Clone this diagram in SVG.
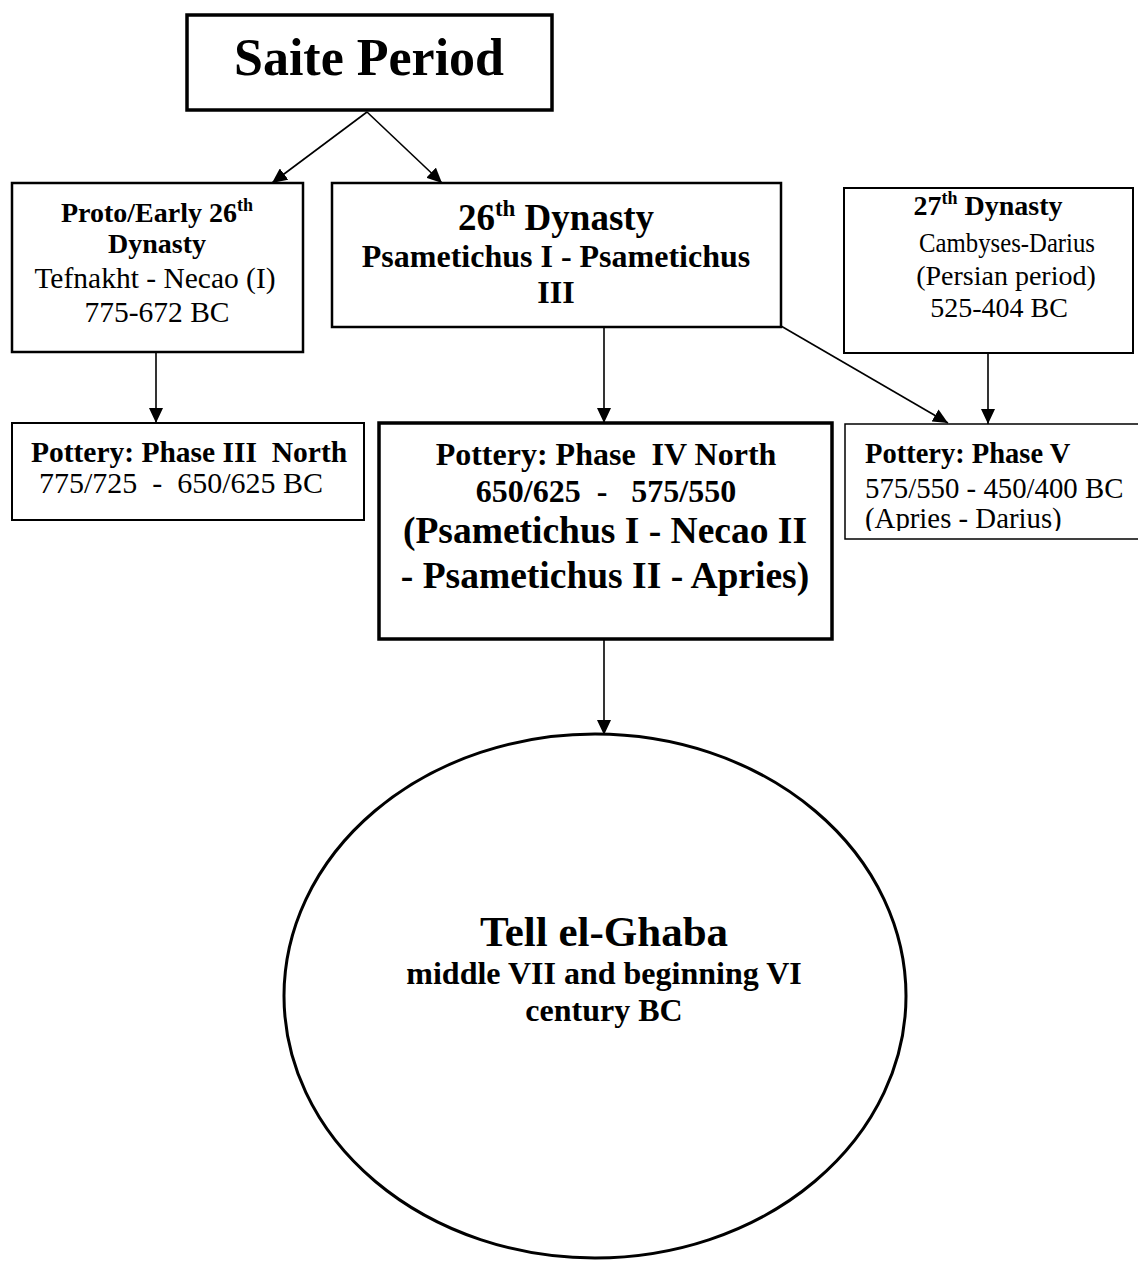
<svg xmlns="http://www.w3.org/2000/svg" width="1138" height="1261" viewBox="0 0 1138 1261">
<style>
  text { font-family: "Liberation Serif", "Times New Roman", serif; fill: #000; white-space: pre; }
  .c { text-anchor: middle; }
  .b { font-weight: bold; }
  .box { fill: #fff; stroke: #000; }
  .edge { stroke: #000; stroke-width: 1.6; fill: none; marker-end: url(#arr); }
</style>
<defs>
  <marker id="arr" markerUnits="userSpaceOnUse" markerWidth="16" markerHeight="14" refX="15" refY="7" orient="auto">
    <path d="M0,0 L15,7 L0,14 Z" fill="#000"/>
  </marker>
  <clipPath id="clipV"><rect x="845" y="424" width="300" height="107"/></clipPath>
</defs>

<g id="saite">
  <rect class="box" x="187" y="15" width="365" height="95" stroke-width="3.5"/>
  <text class="c b" x="369" y="75" font-size="52">Saite Period</text>
</g>

<g id="proto">
  <rect class="box" x="12" y="183" width="291" height="169" stroke-width="2.5"/>
  <text class="c b" x="157" y="222" font-size="28">Proto/Early 26<tspan font-size="18" dy="-11">th</tspan></text>
  <text class="c b" x="157" y="253" font-size="28">Dynasty</text>
  <text class="c" x="155" y="288" font-size="29.5">Tefnakht - Necao (I)</text>
  <text class="c" x="157" y="322" font-size="29.5">775-672 BC</text>
</g>

<g id="dyn26">
  <rect class="box" x="332" y="183" width="449" height="144" stroke-width="2.5"/>
  <text class="c b" x="556" y="230" font-size="37">26<tspan font-size="23" dy="-14">th</tspan><tspan dy="14"> Dynasty</tspan></text>
  <text class="c b" x="556" y="267" font-size="32">Psametichus I - Psametichus</text>
  <text class="c b" x="556" y="303" font-size="32">III</text>
</g>

<g id="dyn27">
  <rect class="box" x="844" y="188" width="289" height="165" stroke-width="2"/>
  <text class="c b" x="988" y="215" font-size="28">27<tspan font-size="18" dy="-11">th</tspan><tspan dy="11"> Dynasty</tspan></text>
  <text x="919" y="252" font-size="28" textLength="176" lengthAdjust="spacingAndGlyphs">Cambyses-Darius</text>
  <text class="c" x="1006" y="285" font-size="28">(Persian period)</text>
  <text class="c" x="999" y="317" font-size="28">525-404 BC</text>
</g>

<g id="pottery3">
  <rect class="box" x="12" y="423" width="352" height="97" stroke-width="2"/>
  <text class="c b" x="189" y="462" font-size="29.5">Pottery: Phase III  North</text>
  <text class="c" x="181" y="493" font-size="30">775/725  -  650/625 BC</text>
</g>

<g id="pottery4">
  <rect class="box" x="379" y="423" width="453" height="216" stroke-width="3.5"/>
  <text class="c b" x="606" y="465" font-size="32">Pottery: Phase  IV North</text>
  <text class="c b" x="606" y="502" font-size="32">650/625  -   575/550</text>
  <text class="c b" x="605" y="543" font-size="37.5">(Psametichus I - Necao II</text>
  <text class="c b" x="605" y="588" font-size="37.5">- Psametichus II - Apries)</text>
</g>

<g id="pottery5">
  <rect class="box" x="845" y="424" width="300" height="115" stroke-width="1.5"/>
  <g clip-path="url(#clipV)">
    <text class="b" x="865" y="463" font-size="28.5">Pottery: Phase V</text>
    <text x="865" y="498" font-size="28.8">575/550 - 450/400 BC</text>
    <text x="865" y="528" font-size="28.8">(Apries - Darius)</text>
  </g>
</g>

<g id="tell">
  <ellipse class="box" cx="595" cy="996" rx="311" ry="262" stroke-width="3"/>
  <text class="c b" x="604" y="946" font-size="43">Tell el-Ghaba</text>
  <text class="c b" x="604" y="984" font-size="32">middle VII and beginning VI</text>
  <text class="c b" x="604" y="1021" font-size="32">century BC</text>
</g>

<g id="connectors">
  <line class="edge" x1="367" y1="112" x2="272" y2="183"/>
  <line class="edge" x1="367" y1="112" x2="442" y2="183"/>
  <line class="edge" x1="156" y1="352" x2="156" y2="423"/>
  <line class="edge" x1="604" y1="327" x2="604" y2="423"/>
  <line class="edge" x1="781" y1="326" x2="948" y2="423"/>
  <line class="edge" x1="988" y1="353" x2="988" y2="424"/>
  <line class="edge" x1="604" y1="639" x2="604" y2="735"/>
</g>
</svg>
